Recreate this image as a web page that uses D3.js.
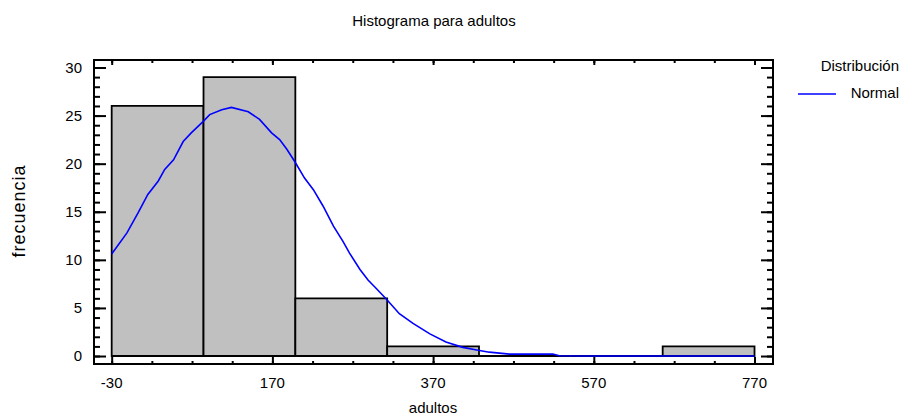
<!DOCTYPE html>
<html>
<head>
<meta charset="utf-8">
<script src="https://cdn.jsdelivr.net/npm/d3@7"></script>
<style>
  body { margin: 0; background: #fff; }
  text { font-family: "Liberation Sans", Arial, sans-serif; fill: #000; }
</style>
</head>
<body>
<div id="chart"></div>
<script>
// histogram bins (adultos) and counts
var binEdges = [-30, 84.29, 198.57, 312.86, 427.14, 541.43, 655.71, 770];
var counts = [26, 29, 6, 1, 0, 0, 1];

// fitted normal curve
var curveX = [-30, -11, 3, 15, 28, 36, 47, 59, 69, 84, 92, 107, 119, 140, 154, 169, 179, 188, 198, 210,
  221, 233, 246, 258, 266, 279, 289, 299, 312, 328, 345, 366, 386, 407, 426, 440, 465, 519, 527, 560, 770];
var curveY = [10.6, 12.8, 14.9, 16.8, 18.2, 19.4, 20.4, 22.3, 23.2, 24.4, 25.1, 25.6, 25.85, 25.4, 24.6, 23.2, 22.5, 21.5, 20.2, 18.5,
  17.3, 15.6, 13.5, 11.9, 10.7, 9.0, 7.9, 7.05, 5.9, 4.4, 3.4, 2.3, 1.45, 0.9, 0.6, 0.4, 0.2, 0.2, 0.03, 0, 0];

var xTicks = [-30, 170, 370, 570, 770];
var yTicks = [0, 5, 10, 15, 20, 25, 30];

var width = 901, height = 417;
var plot = { left: 94, right: 773, top: 60, bottom: 364 };

var svg = d3.select("#chart")
  .append("svg")
  .attr("width", width)
  .attr("height", height);

var x = d3.scaleLinear().domain([-52, 793]).range([plot.left, plot.right]);
var y = d3.scaleLinear().domain([-0.83, 30.78]).range([plot.bottom, plot.top]);

// bars (drawn as paths so empty bins still show their outline)
var bars = counts.map(function(c, i) { return { x0: binEdges[i], x1: binEdges[i + 1], n: c }; });
svg.append("g")
  .selectAll("path")
  .data(bars)
  .enter()
  .append("path")
  .attr("d", function(d) {
    return "M" + x(d.x0) + "," + y(0) + "V" + y(d.n) + "H" + x(d.x1) + "V" + y(0) + "Z";
  })
  .attr("fill", "#c0c0c0")
  .attr("stroke", "#000")
  .attr("stroke-width", 1.8);

// normal curve
var line = d3.line()
  .x(function(d) { return x(d[0]); })
  .y(function(d) { return y(d[1]); });
svg.append("path")
  .datum(curveX.map(function(v, i) { return [v, curveY[i]]; }))
  .attr("d", line)
  .attr("fill", "none")
  .attr("stroke", "#0000ff")
  .attr("stroke-width", 1.6);

// axes: ticks pointing inward on all four sides
var xMinor = d3.range(-30, 771, 50);
var yMinor = d3.range(0, 31, 1);

svg.append("g")
  .attr("transform", "translate(0," + plot.bottom + ")")
  .call(d3.axisTop(x).tickValues(xMinor).tickSize(3).tickFormat(""));
svg.append("g")
  .attr("transform", "translate(0," + plot.bottom + ")")
  .call(d3.axisTop(x).tickValues(xTicks).tickSize(7).tickFormat(""));
svg.append("g")
  .attr("transform", "translate(0," + plot.top + ")")
  .call(d3.axisBottom(x).tickValues(xMinor).tickSize(3).tickFormat(""));
svg.append("g")
  .attr("transform", "translate(0," + plot.top + ")")
  .call(d3.axisBottom(x).tickValues(xTicks).tickSize(5).tickFormat(""));

svg.append("g")
  .attr("transform", "translate(" + plot.left + ",0)")
  .call(d3.axisRight(y).tickValues(yMinor).tickSize(6).tickFormat(""));
svg.append("g")
  .attr("transform", "translate(" + plot.left + ",0)")
  .call(d3.axisRight(y).tickValues(yTicks).tickSize(12).tickFormat(""));
svg.append("g")
  .attr("transform", "translate(" + plot.right + ",0)")
  .call(d3.axisLeft(y).tickValues(yMinor).tickSize(6).tickFormat(""));
svg.append("g")
  .attr("transform", "translate(" + plot.right + ",0)")
  .call(d3.axisLeft(y).tickValues(yTicks).tickSize(12).tickFormat(""));

svg.selectAll(".domain").remove();
svg.selectAll(".tick line").attr("stroke", "#000").attr("stroke-width", 2);

// frame
svg.append("rect")
  .attr("x", plot.left)
  .attr("y", plot.top)
  .attr("width", plot.right - plot.left)
  .attr("height", plot.bottom - plot.top)
  .attr("fill", "none")
  .attr("stroke", "#000")
  .attr("stroke-width", 2);

// tick labels
svg.append("g")
  .selectAll("text")
  .data(xTicks)
  .enter()
  .append("text")
  .attr("x", function(d) { return x(d); })
  .attr("y", 388)
  .attr("text-anchor", "middle")
  .style("font-size", "15px")
  .text(function(d) { return d; });

svg.append("g")
  .selectAll("text")
  .data(yTicks)
  .enter()
  .append("text")
  .attr("x", 82)
  .attr("y", function(d) { return y(d) + 5; })
  .attr("text-anchor", "end")
  .style("font-size", "15px")
  .text(function(d) { return d; });

// titles
svg.append("text")
  .attr("x", 434)
  .attr("y", 26)
  .attr("text-anchor", "middle")
  .style("font-size", "15px")
  .text("Histograma para adultos");

svg.append("text")
  .attr("x", 433)
  .attr("y", 413)
  .attr("text-anchor", "middle")
  .style("font-size", "15px")
  .text("adultos");

svg.append("text")
  .attr("transform", "translate(25,211) rotate(-90)")
  .attr("text-anchor", "middle")
  .style("font-size", "18px")
  .style("letter-spacing", "1px")
  .text("frecuencia");

// legend
svg.append("text")
  .attr("x", 899)
  .attr("y", 71)
  .attr("text-anchor", "end")
  .style("font-size", "15px")
  .text("Distribución");
svg.append("line")
  .attr("x1", 798).attr("x2", 836)
  .attr("y1", 94).attr("y2", 94)
  .attr("stroke", "#0000ff")
  .attr("stroke-width", 1.6);
svg.append("text")
  .attr("x", 899)
  .attr("y", 98)
  .attr("text-anchor", "end")
  .style("font-size", "15px")
  .text("Normal");
</script>
</body>
</html>
